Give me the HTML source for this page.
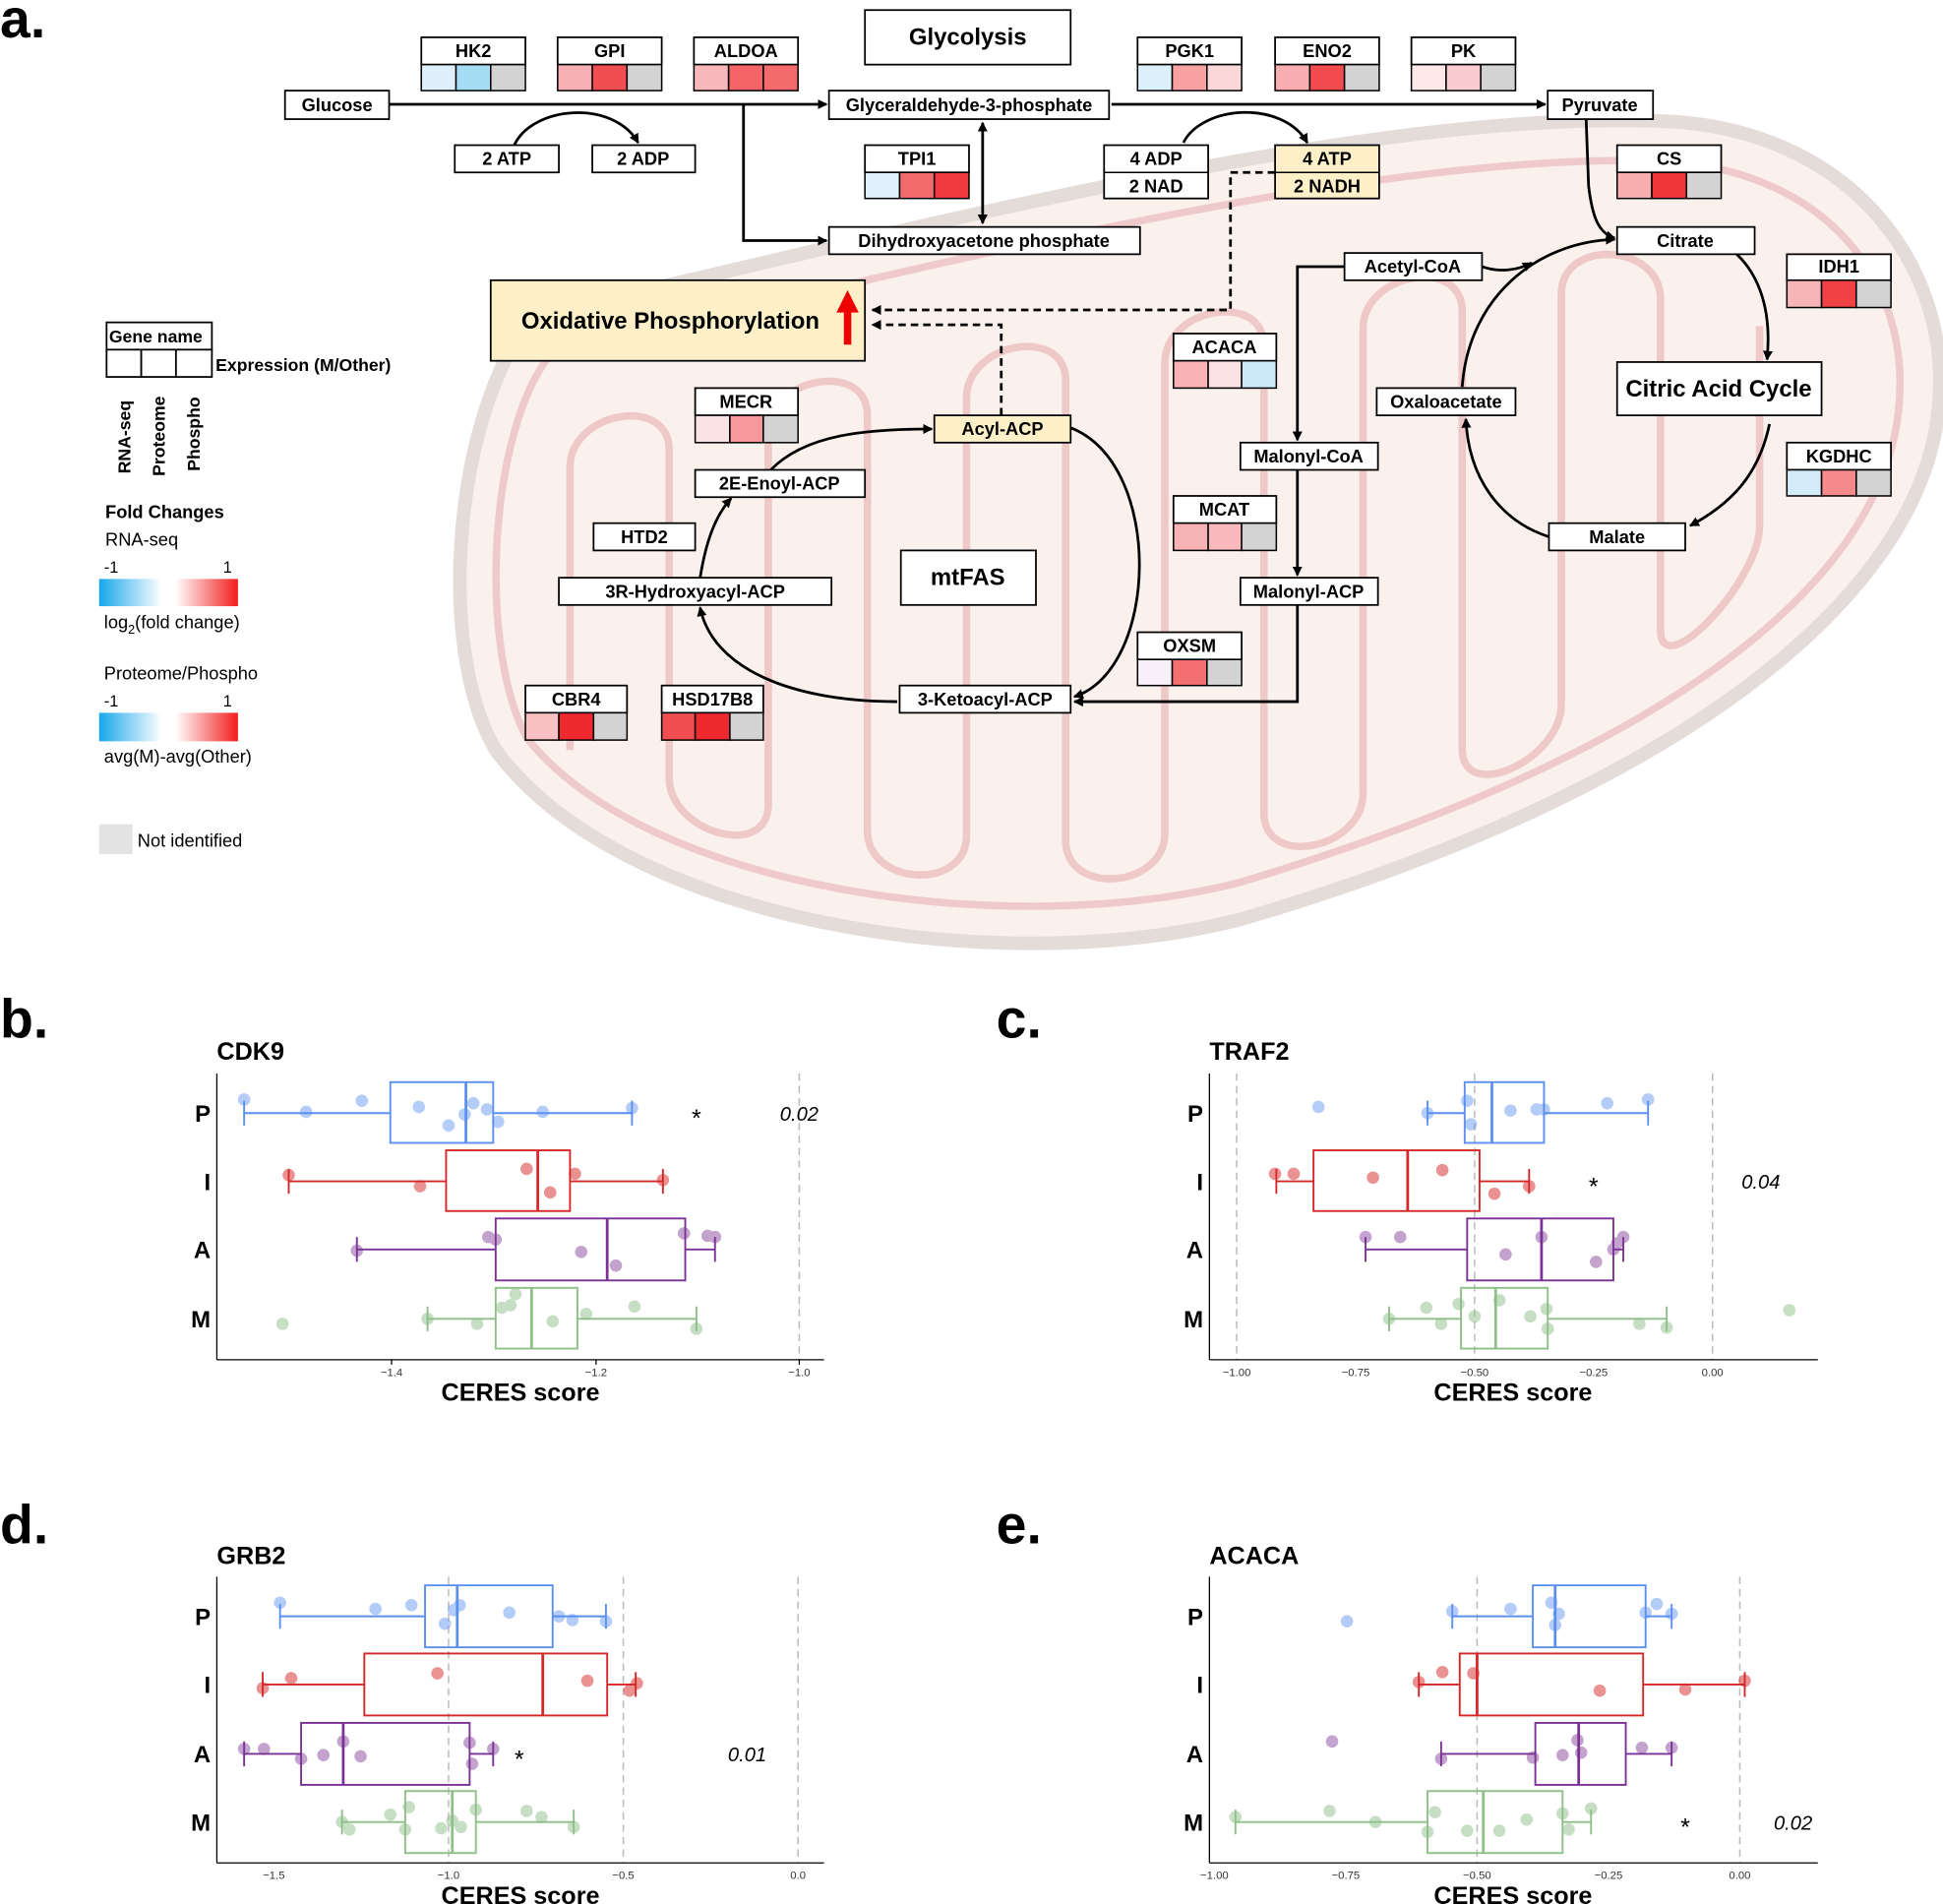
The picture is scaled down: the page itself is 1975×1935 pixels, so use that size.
<!DOCTYPE html>
<html><head><meta charset="utf-8"><style>
html,body{margin:0;padding:0;background:#fff}
svg{display:block}
text{font-family:"Liberation Sans",Arial,sans-serif}
.b{font-weight:bold;font-size:14.5px;text-anchor:middle}
.bx{fill:#fff;stroke:#000;stroke-width:1.4}
.cr{fill:#fdf0c8;stroke:#000;stroke-width:1.4}
.c{stroke:#000;stroke-width:1.2}
.ln{fill:none;stroke:#000;stroke-width:2.2}
.ds{fill:none;stroke:#000;stroke-width:2.2;stroke-dasharray:6,4}
.tk{font-size:9px;text-anchor:middle;fill:#333}
.rl{font-size:19px;font-weight:bold;text-anchor:end}
.ax{stroke:#000;stroke-width:1}
.gd{stroke:#bbb;stroke-width:1.2;stroke-dasharray:6,4}
.cap{font-size:20px;font-weight:bold;text-anchor:middle}
.ttl{font-size:20px;font-weight:bold}
.lt{font-size:44px;font-weight:bold}
</style></head><body>
<svg width="1975" height="1935" viewBox="0 0 1568 1536" xmlns="http://www.w3.org/2000/svg">
<defs>
<marker id="ah" markerWidth="8" markerHeight="8" refX="7" refY="4" orient="auto" markerUnits="userSpaceOnUse"><path d="M0,0 L8,4 L0,8 Z" fill="#000"/></marker>
<marker id="ahs" markerWidth="8" markerHeight="8" refX="1" refY="4" orient="auto" markerUnits="userSpaceOnUse"><path d="M8,0 L0,4 L8,8 Z" fill="#000"/></marker>
<linearGradient id="gr" x1="0" x2="1" y1="0" y2="0"><stop offset="0" stop-color="#19a6ea"/><stop offset="0.45" stop-color="#fff"/><stop offset="0.55" stop-color="#fff"/><stop offset="1" stop-color="#f21c1c"/></linearGradient>
</defs>

<!-- mitochondrion -->
<path d="M430,255 C700,195 1100,85 1350,98 C1500,108 1572,220 1565,320 C1558,480 1350,640 1000,742 C800,792 500,742 400,605 C350,520 368,330 430,255 Z" fill="#fbf1ec" stroke="#e3dcd8" stroke-width="11"/>
<path d="M445,285 C700,228 1100,120 1345,130 C1480,140 1538,230 1533,320 C1526,470 1340,610 1000,712 C810,760 520,716 425,595 C385,520 395,345 445,285 Z" fill="none" stroke="#efcaca" stroke-width="6"/>
<path d="M460,605 L460,377 C460,332 540,318 540,363 L540,627 C540,672 620,694 620,649 L620,349 C620,304 700,290 700,335 L700,670 C700,715 780,719 780,674 L780,321 C780,276 860,262 860,307 L860,678 C860,723 940,717 940,672 L940,293 C940,248 1020,234 1020,279 L1020,656 C1020,701 1100,685 1100,640 L1100,265 C1100,220 1180,206 1180,251 L1180,604 C1180,649 1260,613 1260,568 L1260,237 C1260,192 1340,196 1340,241 L1340,508 C1340,553 1420,469 1420,424 L1420,263" fill="none" stroke="#efc8c8" stroke-width="6"/>

<!-- letters -->
<text x="0" y="30" class="lt">a.</text>
<text x="0" y="837" class="lt">b.</text>
<text x="804" y="837" class="lt">c.</text>
<text x="0" y="1245" class="lt">d.</text>
<text x="804" y="1245" class="lt">e.</text>

<!-- arrows -->
<line x1="314" y1="84" x2="667" y2="84" class="ln" marker-end="url(#ah)"/>
<path d="M600,84 L600,194 L667,194" class="ln" marker-end="url(#ah)"/>
<path d="M415,117 C430,85 495,80 515,115" class="ln" marker-end="url(#ah)"/>
<line x1="793" y1="99" x2="793" y2="180" class="ln" marker-end="url(#ah)" marker-start="url(#ahs)"/>
<line x1="897" y1="84" x2="1247" y2="84" class="ln" marker-end="url(#ah)"/>
<path d="M955,115 C970,85 1035,80 1055,115" class="ln" marker-end="url(#ah)"/>
<path d="M1029,139 L993,139 L993,250 L704,250" class="ds" marker-end="url(#ah)"/>
<path d="M808,335 L808,262 L704,262" class="ds" marker-end="url(#ah)"/>
<path d="M1280,96 L1282,150 C1285,175 1290,188 1303,192" class="ln" marker-end="url(#ah)"/>
<path d="M1180,312 C1185,240 1240,195 1303,193" class="ln" marker-end="url(#ah)"/>
<path d="M1196,215 C1210,220 1225,218 1236,212" class="ln" marker-end="url(#ah)"/>
<path d="M1390,196 C1420,215 1430,250 1426,290" class="ln" marker-end="url(#ah)"/>
<path d="M1428,342 C1420,380 1400,405 1364,424" class="ln" marker-end="url(#ah)"/>
<path d="M1250,433 C1210,420 1185,385 1183,338" class="ln" marker-end="url(#ah)"/>
<path d="M1085,215 L1047,215 L1047,355" class="ln" marker-end="url(#ah)"/>
<line x1="1047" y1="379" x2="1047" y2="464" class="ln" marker-end="url(#ah)"/>
<path d="M1047,488 L1047,566 L867,566" class="ln" marker-end="url(#ah)"/>
<path d="M724,566 C640,566 575,540 565,490" class="ln" marker-end="url(#ah)"/>
<path d="M565,466 C570,435 578,415 590,402" class="ln" marker-end="url(#ah)"/>
<path d="M622,379 C650,350 700,346 752,346" class="ln" marker-end="url(#ah)"/>
<path d="M864,345 C940,375 935,540 867,562" class="ln" marker-end="url(#ah)"/>

<!-- boxes -->
<rect x="698" y="8" width="166" height="44" class="bx"/><text x="781" y="36" class="b" style="font-size:19px">Glycolysis</text>
<rect x="230" y="73" width="84" height="23" class="bx"/><text x="272" y="89.5" class="b">Glucose</text>
<rect x="669" y="73" width="226" height="23" class="bx"/><text x="782" y="89.5" class="b">Glyceraldehyde-3-phosphate</text>
<rect x="1249" y="73" width="85" height="23" class="bx"/><text x="1291" y="89.5" class="b">Pyruvate</text>
<rect x="367" y="117" width="84" height="22" class="bx"/><text x="409" y="133" class="b">2 ATP</text>
<rect x="478" y="117" width="83" height="22" class="bx"/><text x="519" y="133" class="b">2 ADP</text>
<rect x="891" y="117" width="84" height="43" class="bx"/><line x1="891" y1="139" x2="975" y2="139" class="c"/><text x="933" y="133" class="b">4 ADP</text><text x="933" y="155" class="b">2 NAD</text>
<rect x="1029" y="117" width="84" height="43" class="cr"/><line x1="1029" y1="139" x2="1113" y2="139" class="c"/><text x="1071" y="133" class="b">4 ATP</text><text x="1071" y="155" class="b">2 NADH</text>
<rect x="669" y="183" width="251" height="22" class="bx"/><text x="794" y="199" class="b">Dihydroxyacetone phosphate</text>
<rect x="1305" y="183" width="111" height="22" class="bx"/><text x="1360" y="199" class="b">Citrate</text>
<rect x="1085" y="204" width="111" height="22" class="bx"/><text x="1140" y="220" class="b">Acetyl-CoA</text>
<rect x="396" y="226" width="302" height="65" class="cr"/><text x="541" y="265" class="b" style="font-size:19px">Oxidative Phosphorylation</text>
<path d="M681,278 L681,252 L675,252 L684,234 L693,252 L687,252 L687,278 Z" fill="#ee0000"/>
<rect x="1305" y="292" width="165" height="43" class="bx"/><text x="1387" y="320" class="b" style="font-size:19px">Citric Acid Cycle</text>
<rect x="1111" y="313" width="112" height="22" class="bx"/><text x="1167" y="329" class="b">Oxaloacetate</text>
<rect x="754" y="335" width="110" height="22" class="cr"/><text x="809" y="351" class="b">Acyl-ACP</text>
<rect x="1001" y="357" width="111" height="22" class="bx"/><text x="1056" y="373" class="b">Malonyl-CoA</text>
<rect x="561" y="379" width="137" height="22" class="bx"/><text x="629" y="395" class="b">2E-Enoyl-ACP</text>
<rect x="479" y="422" width="82" height="22" class="bx"/><text x="520" y="438" class="b">HTD2</text>
<rect x="1250" y="422" width="110" height="22" class="bx"/><text x="1305" y="438" class="b">Malate</text>
<rect x="727" y="444" width="109" height="44" class="bx"/><text x="781" y="472" class="b" style="font-size:19px">mtFAS</text>
<rect x="451" y="466" width="220" height="22" class="bx"/><text x="561" y="482" class="b">3R-Hydroxyacyl-ACP</text>
<rect x="1001" y="466" width="111" height="22" class="bx"/><text x="1056" y="482" class="b">Malonyl-ACP</text>
<rect x="726" y="553" width="138" height="22" class="bx"/><text x="795" y="569" class="b">3-Ketoacyl-ACP</text>

<!-- gene boxes -->
<g>
<rect x="340" y="30" width="84" height="22" class="bx"/><text x="382" y="46" class="b">HK2</text>
<rect x="340" y="52" width="28" height="21" fill="#dff0fa" class="c"/><rect x="368" y="52" width="28" height="21" fill="#a6dcf3" class="c"/><rect x="396" y="52" width="28" height="21" fill="#d3d3d3" class="c"/>
<rect x="450" y="30" width="84" height="22" class="bx"/><text x="492" y="46" class="b">GPI</text>
<rect x="450" y="52" width="28" height="21" fill="#f7b0b3" class="c"/><rect x="478" y="52" width="28" height="21" fill="#f04f52" class="c"/><rect x="506" y="52" width="28" height="21" fill="#d3d3d3" class="c"/>
<rect x="560" y="30" width="84" height="22" class="bx"/><text x="602" y="46" class="b">ALDOA</text>
<rect x="560" y="52" width="28" height="21" fill="#f8b8bb" class="c"/><rect x="588" y="52" width="28" height="21" fill="#f56568" class="c"/><rect x="616" y="52" width="28" height="21" fill="#f56b6d" class="c"/>
<rect x="918" y="30" width="84" height="22" class="bx"/><text x="960" y="46" class="b">PGK1</text>
<rect x="918" y="52" width="28" height="21" fill="#dcf0fa" class="c"/><rect x="946" y="52" width="28" height="21" fill="#f7a1a3" class="c"/><rect x="974" y="52" width="28" height="21" fill="#fad8d9" class="c"/>
<rect x="1029" y="30" width="84" height="22" class="bx"/><text x="1071" y="46" class="b">ENO2</text>
<rect x="1029" y="52" width="28" height="21" fill="#f8aeb1" class="c"/><rect x="1057" y="52" width="28" height="21" fill="#f24a4d" class="c"/><rect x="1085" y="52" width="28" height="21" fill="#d3d3d3" class="c"/>
<rect x="1139" y="30" width="84" height="22" class="bx"/><text x="1181" y="46" class="b">PK</text>
<rect x="1139" y="52" width="28" height="21" fill="#fde9ea" class="c"/><rect x="1167" y="52" width="28" height="21" fill="#f9cdd0" class="c"/><rect x="1195" y="52" width="28" height="21" fill="#d3d3d3" class="c"/>
<rect x="698" y="117" width="84" height="22" class="bx"/><text x="740" y="133" class="b">TPI1</text>
<rect x="698" y="139" width="28" height="21" fill="#e0f1fb" class="c"/><rect x="726" y="139" width="28" height="21" fill="#f36a6d" class="c"/><rect x="754" y="139" width="28" height="21" fill="#f03c40" class="c"/>
<rect x="1305" y="117" width="84" height="22" class="bx"/><text x="1347" y="133" class="b">CS</text>
<rect x="1305" y="139" width="28" height="21" fill="#f9aeb0" class="c"/><rect x="1333" y="139" width="28" height="21" fill="#f03639" class="c"/><rect x="1361" y="139" width="28" height="21" fill="#d3d3d3" class="c"/>
<rect x="1442" y="205" width="84" height="21" class="bx"/><text x="1484" y="220" class="b">IDH1</text>
<rect x="1442" y="226" width="28" height="22" fill="#f8b5b8" class="c"/><rect x="1470" y="226" width="28" height="22" fill="#f04245" class="c"/><rect x="1498" y="226" width="28" height="22" fill="#d3d3d3" class="c"/>
<rect x="947" y="269" width="83" height="22" class="bx"/><text x="988" y="285" class="b">ACACA</text>
<rect x="947" y="291" width="28" height="22" fill="#f9b3b5" class="c"/><rect x="975" y="291" width="27" height="22" fill="#fbe1e3" class="c"/><rect x="1002" y="291" width="28" height="22" fill="#cde9f7" class="c"/>
<rect x="561" y="313" width="83" height="22" class="bx"/><text x="602" y="329" class="b">MECR</text>
<rect x="561" y="335" width="28" height="22" fill="#fbe2e5" class="c"/><rect x="589" y="335" width="27" height="22" fill="#f7999c" class="c"/><rect x="616" y="335" width="28" height="22" fill="#d3d3d3" class="c"/>
<rect x="1442" y="357" width="84" height="22" class="bx"/><text x="1484" y="373" class="b">KGDHC</text>
<rect x="1442" y="379" width="28" height="21" fill="#d3ecf8" class="c"/><rect x="1470" y="379" width="28" height="21" fill="#f6898c" class="c"/><rect x="1498" y="379" width="28" height="21" fill="#d3d3d3" class="c"/>
<rect x="947" y="400" width="83" height="22" class="bx"/><text x="988" y="416" class="b">MCAT</text>
<rect x="947" y="422" width="28" height="22" fill="#f7b2b5" class="c"/><rect x="975" y="422" width="27" height="22" fill="#f8b9bc" class="c"/><rect x="1002" y="422" width="28" height="22" fill="#d3d3d3" class="c"/>
<rect x="918" y="510" width="84" height="22" class="bx"/><text x="960" y="526" class="b">OXSM</text>
<rect x="918" y="532" width="28" height="21" fill="#f8f0f8" class="c"/><rect x="946" y="532" width="28" height="21" fill="#f46f72" class="c"/><rect x="974" y="532" width="28" height="21" fill="#d3d3d3" class="c"/>
<rect x="424" y="553" width="82" height="22" class="bx"/><text x="465" y="569" class="b">CBR4</text>
<rect x="424" y="575" width="27" height="22" fill="#f8c0c3" class="c"/><rect x="451" y="575" width="28" height="22" fill="#ee2a2e" class="c"/><rect x="479" y="575" width="27" height="22" fill="#d3d3d3" class="c"/>
<rect x="534" y="553" width="82" height="22" class="bx"/><text x="575" y="569" class="b">HSD17B8</text>
<rect x="534" y="575" width="27" height="22" fill="#f04e50" class="c"/><rect x="561" y="575" width="28" height="22" fill="#ee2a2e" class="c"/><rect x="589" y="575" width="27" height="22" fill="#d3d3d3" class="c"/>
</g>

<!-- legend -->
<rect x="86" y="260" width="85" height="22" class="bx"/><text x="88" y="276" style="font-size:14px;font-weight:bold">Gene name</text>
<rect x="86" y="282" width="28" height="22" class="bx"/><rect x="114" y="282" width="28" height="22" class="bx"/><rect x="142" y="282" width="29" height="22" class="bx"/>
<text x="174" y="299" style="font-size:14px;font-weight:bold">Expression (M/Other)</text>
<text transform="translate(105,382) rotate(-90)" style="font-size:14px;font-weight:bold">RNA-seq</text>
<text transform="translate(133,384) rotate(-90)" style="font-size:14px;font-weight:bold">Proteome</text>
<text transform="translate(161,380) rotate(-90)" style="font-size:14px;font-weight:bold">Phospho</text>
<text x="85" y="418" style="font-size:14.5px;font-weight:bold">Fold Changes</text>
<text x="85" y="440" style="font-size:14.5px">RNA-seq</text>
<text x="84" y="462" style="font-size:13px">-1</text><text x="180" y="462" style="font-size:13px">1</text>
<rect x="80" y="467" width="112" height="22" fill="url(#gr)"/>
<text x="84" y="507" style="font-size:14.5px">log<tspan dy="4" style="font-size:10px">2</tspan><tspan dy="-4">(fold change)</tspan></text>
<text x="84" y="548" style="font-size:14.5px">Proteome/Phospho</text>
<text x="84" y="570" style="font-size:13px">-1</text><text x="180" y="570" style="font-size:13px">1</text>
<rect x="80" y="575" width="112" height="23" fill="url(#gr)"/>
<text x="84" y="615" style="font-size:14.5px">avg(M)-avg(Other)</text>
<rect x="80" y="665" width="27" height="24" fill="#e3e3e3"/>
<text x="111" y="683" style="font-size:14.5px">Not identified</text>

<!-- Panel b -->
<g>
<text x="175" y="855" class="ttl">CDK9</text>
<line x1="645" y1="866" x2="645" y2="1097" class="gd"/>
<line x1="175" y1="866" x2="175" y2="1097" class="ax"/><line x1="175" y1="1097" x2="665" y2="1097" class="ax"/>
<text x="170" y="905" class="rl">P</text><text x="170" y="960" class="rl">I</text><text x="170" y="1015" class="rl">A</text><text x="170" y="1071" class="rl">M</text>
<line x1="316" y1="1097" x2="316" y2="1101" class="ax"/><line x1="481" y1="1097" x2="481" y2="1101" class="ax"/><line x1="645" y1="1097" x2="645" y2="1101" class="ax"/>
<text x="316" y="1110" class="tk">−1.4</text><text x="481" y="1110" class="tk">−1.2</text><text x="645" y="1110" class="tk">−1.0</text>
<text x="420" y="1130" class="cap">CERES score</text>
<text x="562" y="909" style="font-size:20px;text-anchor:middle">*</text>
<text x="645" y="904" style="font-size:16px;font-style:italic;text-anchor:middle">0.02</text>
<g stroke="#5b8ff0" fill="none" stroke-width="1.5"><line x1="197" y1="898" x2="315" y2="898"/><line x1="398" y1="898" x2="510" y2="898"/><line x1="197" y1="888" x2="197" y2="908"/><line x1="510" y1="888" x2="510" y2="908"/><rect x="315" y="873" width="83" height="49"/><line x1="376" y1="873" x2="376" y2="922" stroke-width="2.2"/></g>
<g fill="#5b8ff0" opacity="0.45"><circle cx="197" cy="887" r="5"/><circle cx="247" cy="897" r="5"/><circle cx="292" cy="888" r="5"/><circle cx="338" cy="893" r="5"/><circle cx="362" cy="908" r="5"/><circle cx="382" cy="890" r="5"/><circle cx="375" cy="899" r="5"/><circle cx="393" cy="895" r="5"/><circle cx="402" cy="905" r="5"/><circle cx="438" cy="897" r="5"/><circle cx="510" cy="894" r="5"/></g>
<g stroke="#d62728" fill="none" stroke-width="1.5"><line x1="233" y1="953" x2="360" y2="953"/><line x1="460" y1="953" x2="535" y2="953"/><line x1="233" y1="943" x2="233" y2="963"/><line x1="535" y1="943" x2="535" y2="963"/><rect x="360" y="928" width="100" height="49"/><line x1="434" y1="928" x2="434" y2="977" stroke-width="2.2"/></g>
<g fill="#d62728" opacity="0.5"><circle cx="233" cy="948" r="5"/><circle cx="339" cy="957" r="5"/><circle cx="425" cy="943" r="5"/><circle cx="444" cy="962" r="5"/><circle cx="464" cy="947" r="5"/><circle cx="535" cy="952" r="5"/></g>
<g stroke="#7b3294" fill="none" stroke-width="1.5"><line x1="288" y1="1008" x2="400" y2="1008"/><line x1="553" y1="1008" x2="577" y2="1008"/><line x1="288" y1="998" x2="288" y2="1018"/><line x1="577" y1="998" x2="577" y2="1018"/><rect x="400" y="983" width="153" height="50"/><line x1="490" y1="983" x2="490" y2="1033" stroke-width="2.2"/></g>
<g fill="#7b3294" opacity="0.45"><circle cx="288" cy="1009" r="5"/><circle cx="394" cy="998" r="5"/><circle cx="400" cy="1000" r="5"/><circle cx="469" cy="1010" r="5"/><circle cx="497" cy="1021" r="5"/><circle cx="552" cy="995" r="5"/><circle cx="571" cy="997" r="5"/><circle cx="577" cy="998" r="5"/></g>
<g stroke="#8fbf88" fill="none" stroke-width="1.5"><line x1="345" y1="1064" x2="400" y2="1064"/><line x1="466" y1="1064" x2="562" y2="1064"/><line x1="345" y1="1054" x2="345" y2="1074"/><line x1="562" y1="1054" x2="562" y2="1074"/><rect x="400" y="1039" width="66" height="49"/><line x1="429" y1="1039" x2="429" y2="1088" stroke-width="2.2"/></g>
<g fill="#8fbf88" opacity="0.5"><circle cx="228" cy="1068" r="5"/><circle cx="345" cy="1064" r="5"/><circle cx="385" cy="1068" r="5"/><circle cx="405" cy="1055" r="5"/><circle cx="412" cy="1053" r="5"/><circle cx="416" cy="1044" r="5"/><circle cx="446" cy="1066" r="5"/><circle cx="473" cy="1060" r="5"/><circle cx="512" cy="1054" r="5"/><circle cx="562" cy="1072" r="5"/></g>
</g>

<!-- Panel c -->
<g>
<text x="976" y="855" class="ttl">TRAF2</text>
<line x1="998" y1="866" x2="998" y2="1097" class="gd"/><line x1="1190" y1="866" x2="1190" y2="1097" class="gd"/><line x1="1382" y1="866" x2="1382" y2="1097" class="gd"/>
<line x1="976" y1="866" x2="976" y2="1097" class="ax"/><line x1="976" y1="1097" x2="1467" y2="1097" class="ax"/>
<text x="971" y="905" class="rl">P</text><text x="971" y="960" class="rl">I</text><text x="971" y="1015" class="rl">A</text><text x="971" y="1071" class="rl">M</text>
<text x="998" y="1110" class="tk">−1.00</text><text x="1094" y="1110" class="tk">−0.75</text><text x="1190" y="1110" class="tk">−0.50</text><text x="1286" y="1110" class="tk">−0.25</text><text x="1382" y="1110" class="tk">0.00</text>
<text x="1221" y="1130" class="cap">CERES score</text>
<text x="1286" y="964" style="font-size:20px;text-anchor:middle">*</text>
<text x="1421" y="959" style="font-size:16px;font-style:italic;text-anchor:middle">0.04</text>
<g stroke="#5b8ff0" fill="none" stroke-width="1.5"><line x1="1152" y1="898" x2="1182" y2="898"/><line x1="1246" y1="898" x2="1330" y2="898"/><line x1="1152" y1="888" x2="1152" y2="908"/><line x1="1330" y1="888" x2="1330" y2="908"/><rect x="1182" y="873" width="64" height="49"/><line x1="1204" y1="873" x2="1204" y2="922" stroke-width="2.2"/></g>
<g fill="#5b8ff0" opacity="0.45"><circle cx="1064" cy="893" r="5"/><circle cx="1152" cy="898" r="5"/><circle cx="1184" cy="888" r="5"/><circle cx="1187" cy="907" r="5"/><circle cx="1219" cy="896" r="5"/><circle cx="1240" cy="895" r="5"/><circle cx="1246" cy="895" r="5"/><circle cx="1297" cy="890" r="5"/><circle cx="1330" cy="887" r="5"/></g>
<g stroke="#d62728" fill="none" stroke-width="1.5"><line x1="1030" y1="953" x2="1060" y2="953"/><line x1="1194" y1="953" x2="1234" y2="953"/><line x1="1030" y1="943" x2="1030" y2="963"/><line x1="1234" y1="943" x2="1234" y2="963"/><rect x="1060" y="928" width="134" height="49"/><line x1="1136" y1="928" x2="1136" y2="977" stroke-width="2.2"/></g>
<g fill="#d62728" opacity="0.5"><circle cx="1029" cy="947" r="5"/><circle cx="1044" cy="947" r="5"/><circle cx="1108" cy="950" r="5"/><circle cx="1164" cy="944" r="5"/><circle cx="1206" cy="963" r="5"/><circle cx="1234" cy="957" r="5"/></g>
<g stroke="#7b3294" fill="none" stroke-width="1.5"><line x1="1102" y1="1008" x2="1184" y2="1008"/><line x1="1302" y1="1008" x2="1310" y2="1008"/><line x1="1102" y1="998" x2="1102" y2="1018"/><line x1="1310" y1="998" x2="1310" y2="1018"/><rect x="1184" y="983" width="118" height="50"/><line x1="1244" y1="983" x2="1244" y2="1033" stroke-width="2.2"/></g>
<g fill="#7b3294" opacity="0.45"><circle cx="1102" cy="998" r="5"/><circle cx="1130" cy="998" r="5"/><circle cx="1215" cy="1012" r="5"/><circle cx="1244" cy="998" r="5"/><circle cx="1288" cy="1018" r="5"/><circle cx="1302" cy="1008" r="5"/><circle cx="1305" cy="1003" r="5"/><circle cx="1310" cy="998" r="5"/></g>
<g stroke="#8fbf88" fill="none" stroke-width="1.5"><line x1="1121" y1="1064" x2="1179" y2="1064"/><line x1="1249" y1="1064" x2="1345" y2="1064"/><line x1="1121" y1="1054" x2="1121" y2="1074"/><line x1="1345" y1="1054" x2="1345" y2="1074"/><rect x="1179" y="1039" width="70" height="49"/><line x1="1207" y1="1039" x2="1207" y2="1088" stroke-width="2.2"/></g>
<g fill="#8fbf88" opacity="0.5"><circle cx="1121" cy="1064" r="5"/><circle cx="1151" cy="1055" r="5"/><circle cx="1163" cy="1068" r="5"/><circle cx="1177" cy="1052" r="5"/><circle cx="1190" cy="1062" r="5"/><circle cx="1210" cy="1049" r="5"/><circle cx="1235" cy="1062" r="5"/><circle cx="1248" cy="1056" r="5"/><circle cx="1249" cy="1072" r="5"/><circle cx="1323" cy="1068" r="5"/><circle cx="1345" cy="1071" r="5"/><circle cx="1444" cy="1057" r="5"/></g>
</g>

<!-- Panel d -->
<g>
<text x="175" y="1262" class="ttl">GRB2</text>
<line x1="362" y1="1272" x2="362" y2="1503" class="gd"/><line x1="503" y1="1272" x2="503" y2="1503" class="gd"/><line x1="644" y1="1272" x2="644" y2="1503" class="gd"/>
<line x1="175" y1="1272" x2="175" y2="1503" class="ax"/><line x1="175" y1="1503" x2="665" y2="1503" class="ax"/>
<text x="170" y="1311" class="rl">P</text><text x="170" y="1366" class="rl">I</text><text x="170" y="1422" class="rl">A</text><text x="170" y="1477" class="rl">M</text>
<text x="221" y="1516" class="tk">−1.5</text><text x="362" y="1516" class="tk">−1.0</text><text x="503" y="1516" class="tk">−0.5</text><text x="644" y="1516" class="tk">0.0</text>
<text x="420" y="1536" class="cap">CERES score</text>
<text x="419" y="1426" style="font-size:20px;text-anchor:middle">*</text>
<text x="603" y="1421" style="font-size:16px;font-style:italic;text-anchor:middle">0.01</text>
<g stroke="#5b8ff0" fill="none" stroke-width="1.5"><line x1="226" y1="1304" x2="343" y2="1304"/><line x1="446" y1="1304" x2="489" y2="1304"/><line x1="226" y1="1294" x2="226" y2="1314"/><line x1="489" y1="1294" x2="489" y2="1314"/><rect x="343" y="1279" width="103" height="50"/><line x1="369" y1="1279" x2="369" y2="1329" stroke-width="2.2"/></g>
<g fill="#5b8ff0" opacity="0.45"><circle cx="226" cy="1293" r="5"/><circle cx="303" cy="1298" r="5"/><circle cx="332" cy="1295" r="5"/><circle cx="359" cy="1310" r="5"/><circle cx="366" cy="1299" r="5"/><circle cx="371" cy="1295" r="5"/><circle cx="411" cy="1301" r="5"/><circle cx="451" cy="1304" r="5"/><circle cx="462" cy="1307" r="5"/><circle cx="489" cy="1308" r="5"/></g>
<g stroke="#d62728" fill="none" stroke-width="1.5"><line x1="212" y1="1359" x2="294" y2="1359"/><line x1="490" y1="1359" x2="513" y2="1359"/><line x1="212" y1="1349" x2="212" y2="1369"/><line x1="513" y1="1349" x2="513" y2="1369"/><rect x="294" y="1334" width="196" height="50"/><line x1="438" y1="1334" x2="438" y2="1384" stroke-width="2.2"/></g>
<g fill="#d62728" opacity="0.5"><circle cx="212" cy="1362" r="5"/><circle cx="235" cy="1354" r="5"/><circle cx="353" cy="1350" r="5"/><circle cx="474" cy="1356" r="5"/><circle cx="508" cy="1364" r="5"/><circle cx="514" cy="1358" r="5"/></g>
<g stroke="#7b3294" fill="none" stroke-width="1.5"><line x1="197" y1="1415" x2="243" y2="1415"/><line x1="379" y1="1415" x2="398" y2="1415"/><line x1="197" y1="1405" x2="197" y2="1425"/><line x1="398" y1="1405" x2="398" y2="1425"/><rect x="243" y="1390" width="136" height="50"/><line x1="277" y1="1390" x2="277" y2="1440" stroke-width="2.2"/></g>
<g fill="#7b3294" opacity="0.45"><circle cx="197" cy="1411" r="5"/><circle cx="213" cy="1411" r="5"/><circle cx="243" cy="1419" r="5"/><circle cx="261" cy="1416" r="5"/><circle cx="277" cy="1405" r="5"/><circle cx="291" cy="1417" r="5"/><circle cx="379" cy="1406" r="5"/><circle cx="381" cy="1423" r="5"/><circle cx="398" cy="1411" r="5"/></g>
<g stroke="#8fbf88" fill="none" stroke-width="1.5"><line x1="276" y1="1470" x2="327" y2="1470"/><line x1="384" y1="1470" x2="463" y2="1470"/><line x1="276" y1="1460" x2="276" y2="1480"/><line x1="463" y1="1460" x2="463" y2="1480"/><rect x="327" y="1445" width="57" height="50"/><line x1="365" y1="1445" x2="365" y2="1495" stroke-width="2.2"/></g>
<g fill="#8fbf88" opacity="0.5"><circle cx="276" cy="1470" r="5"/><circle cx="282" cy="1476" r="5"/><circle cx="315" cy="1464" r="5"/><circle cx="327" cy="1476" r="5"/><circle cx="330" cy="1458" r="5"/><circle cx="356" cy="1475" r="5"/><circle cx="365" cy="1469" r="5"/><circle cx="372" cy="1474" r="5"/><circle cx="384" cy="1460" r="5"/><circle cx="425" cy="1461" r="5"/><circle cx="437" cy="1466" r="5"/><circle cx="463" cy="1474" r="5"/></g>
</g>

<!-- Panel e -->
<g>
<text x="976" y="1262" class="ttl">ACACA</text>
<line x1="1192" y1="1272" x2="1192" y2="1503" class="gd"/><line x1="1404" y1="1272" x2="1404" y2="1503" class="gd"/>
<line x1="976" y1="1272" x2="976" y2="1503" class="ax"/><line x1="976" y1="1503" x2="1467" y2="1503" class="ax"/>
<text x="971" y="1311" class="rl">P</text><text x="971" y="1366" class="rl">I</text><text x="971" y="1422" class="rl">A</text><text x="971" y="1477" class="rl">M</text>
<text x="980" y="1516" class="tk">−1.00</text><text x="1086" y="1516" class="tk">−0.75</text><text x="1192" y="1516" class="tk">−0.50</text><text x="1298" y="1516" class="tk">−0.25</text><text x="1404" y="1516" class="tk">0.00</text>
<text x="1221" y="1536" class="cap">CERES score</text>
<text x="1360" y="1481" style="font-size:20px;text-anchor:middle">*</text>
<text x="1447" y="1476" style="font-size:16px;font-style:italic;text-anchor:middle">0.02</text>
<g stroke="#5b8ff0" fill="none" stroke-width="1.5"><line x1="1172" y1="1304" x2="1237" y2="1304"/><line x1="1328" y1="1304" x2="1349" y2="1304"/><line x1="1172" y1="1294" x2="1172" y2="1314"/><line x1="1349" y1="1294" x2="1349" y2="1314"/><rect x="1237" y="1279" width="91" height="50"/><line x1="1255" y1="1279" x2="1255" y2="1329" stroke-width="2.2"/></g>
<g fill="#5b8ff0" opacity="0.45"><circle cx="1087" cy="1308" r="5"/><circle cx="1172" cy="1300" r="5"/><circle cx="1219" cy="1298" r="5"/><circle cx="1252" cy="1293" r="5"/><circle cx="1255" cy="1311" r="5"/><circle cx="1258" cy="1302" r="5"/><circle cx="1328" cy="1301" r="5"/><circle cx="1337" cy="1294" r="5"/><circle cx="1349" cy="1302" r="5"/></g>
<g stroke="#d62728" fill="none" stroke-width="1.5"><line x1="1145" y1="1359" x2="1178" y2="1359"/><line x1="1326" y1="1359" x2="1408" y2="1359"/><line x1="1145" y1="1349" x2="1145" y2="1369"/><line x1="1408" y1="1349" x2="1408" y2="1369"/><rect x="1178" y="1334" width="148" height="50"/><line x1="1192" y1="1334" x2="1192" y2="1384" stroke-width="2.2"/></g>
<g fill="#d62728" opacity="0.5"><circle cx="1145" cy="1357" r="5"/><circle cx="1164" cy="1349" r="5"/><circle cx="1189" cy="1350" r="5"/><circle cx="1291" cy="1364" r="5"/><circle cx="1360" cy="1363" r="5"/><circle cx="1408" cy="1356" r="5"/></g>
<g stroke="#7b3294" fill="none" stroke-width="1.5"><line x1="1163" y1="1415" x2="1239" y2="1415"/><line x1="1312" y1="1415" x2="1349" y2="1415"/><line x1="1163" y1="1405" x2="1163" y2="1425"/><line x1="1349" y1="1405" x2="1349" y2="1425"/><rect x="1239" y="1390" width="73" height="50"/><line x1="1274" y1="1390" x2="1274" y2="1440" stroke-width="2.2"/></g>
<g fill="#7b3294" opacity="0.45"><circle cx="1075" cy="1405" r="5"/><circle cx="1163" cy="1419" r="5"/><circle cx="1237" cy="1418" r="5"/><circle cx="1261" cy="1416" r="5"/><circle cx="1273" cy="1404" r="5"/><circle cx="1276" cy="1414" r="5"/><circle cx="1325" cy="1410" r="5"/><circle cx="1349" cy="1410" r="5"/></g>
<g stroke="#8fbf88" fill="none" stroke-width="1.5"><line x1="997" y1="1470" x2="1152" y2="1470"/><line x1="1261" y1="1470" x2="1284" y2="1470"/><line x1="997" y1="1460" x2="997" y2="1480"/><line x1="1284" y1="1460" x2="1284" y2="1480"/><rect x="1152" y="1445" width="109" height="50"/><line x1="1197" y1="1445" x2="1197" y2="1495" stroke-width="2.2"/></g>
<g fill="#8fbf88" opacity="0.5"><circle cx="997" cy="1466" r="5"/><circle cx="1073" cy="1461" r="5"/><circle cx="1110" cy="1470" r="5"/><circle cx="1152" cy="1478" r="5"/><circle cx="1158" cy="1462" r="5"/><circle cx="1184" cy="1477" r="5"/><circle cx="1210" cy="1477" r="5"/><circle cx="1232" cy="1468" r="5"/><circle cx="1261" cy="1463" r="5"/><circle cx="1266" cy="1476" r="5"/><circle cx="1284" cy="1459" r="5"/></g>
</g>
</svg>
</body></html>
